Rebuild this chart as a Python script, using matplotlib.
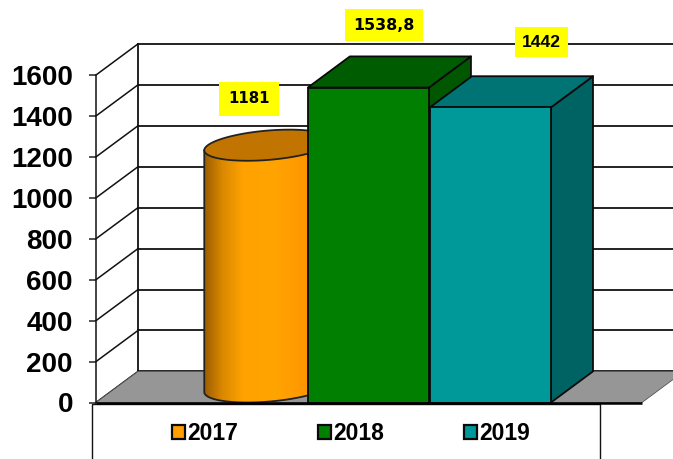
import numpy as np
import matplotlib
matplotlib.use("Agg")
import matplotlib.pyplot as plt
from matplotlib.patches import Polygon, Rectangle, Patch
from matplotlib.colors import LinearSegmentedColormap

years = ["2017", "2018", "2019"]
values = [1181, 1538.8, 1442]
value_labels = ["1181", "1538,8", "1442"]
yticks = [0, 200, 400, 600, 800, 1000, 1200, 1400, 1600]

front_colors = ["#FF9F00", "#007F00", "#009999"]
top_colors = ["#C27400", "#005C00", "#007474"]
side_colors = [None, "#005700", "#006363"]
grad_colors = [(0, "#9C5C00"), (0.14, "#D98800"), (0.3, "#FFA200"), (0.55, "#FFA400"), (0.8, "#FF9600"), (1, "#E08000")]

W, H = 673, 459
DX, DY = 42 / 121, 152.0  # oblique depth offset in data units
XMIN, XMAX, FLOOR_R = -1.25, 3.26, 3.26
EW = 1.3

fig = plt.figure(figsize=(W / 100, H / 100), dpi=100, facecolor="white")
ax = fig.add_axes([96 / W, (H - 402.5) / H, 546 / W, 327.5 / H])
ax.set_xlim(XMIN, XMAX)
ax.set_ylim(0, 1600)
ax.patch.set_alpha(0)
for s in ["top", "right", "bottom"]:
    ax.spines[s].set_visible(False)
ax.spines["left"].set_linewidth(1.1)
ax.spines["left"].set_color("#111111")
ax.set_xticks([])
ax.set_yticks(yticks)
ax.set_yticklabels([str(t) for t in yticks], fontfamily="Liberation Sans",
                   fontweight="bold", fontsize=20)
ax.tick_params(axis="y", length=5, width=1.1, pad=11.6, color="#222222")


def poly(pts, fc, ec="#0a0a0a", lw=EW, z=3):
    ax.add_patch(Polygon(pts, closed=True, facecolor=fc, edgecolor=ec,
                         linewidth=lw, zorder=z, clip_on=False, joinstyle="round"))


# floor
poly([(XMIN, 0), (FLOOR_R, 0), (FLOOR_R + DX, DY), (XMIN + DX, DY)], "#969696", ec="#555555", lw=0.6, z=1)

# gridlines on back and left walls
for t in yticks:
    col = "#111111"
    ax.plot([XMIN + DX, FLOOR_R + DX], [t + DY, t + DY], color=col, lw=1.3, zorder=0.5, clip_on=False)
    ax.plot([XMIN, XMIN + DX], [t, t + DY], color=col, lw=1.1, zorder=0.6, clip_on=False)
ax.plot([XMIN + DX, XMIN + DX], [DY, 1600 + DY], color="#111111", lw=1.3, zorder=0.6, clip_on=False)
ax.plot([XMIN, FLOOR_R], [0, 0], color="#000000", lw=1.8, zorder=8, clip_on=False, solid_capstyle="butt")

# 2017 cylinder (circle in oblique projection)
cx, hw = 0.0, 0.5
t = np.linspace(0, 2 * np.pi, 361)


def ring(base):
    return (cx + DX / 2 + hw * np.cos(t) + DX / 2 * np.sin(t),
            base + DY / 2 + DY / 2 * np.sin(t))


rx, ry = ring(values[0])
bx, by = ring(0)
il, ir = np.argmin(rx), np.argmax(rx)
i_seq = np.r_[il:361, 0:ir + 1]
body = np.r_[[[rx[il], ry[il]]], np.c_[bx[i_seq], by[i_seq]], [[rx[ir], ry[ir]]]]
body_patch = Polygon(body, closed=True, facecolor="none", edgecolor="#222222", linewidth=EW, zorder=3.1, clip_on=False)
ax.add_patch(body_patch)
cmap = LinearSegmentedColormap.from_list("cyl", grad_colors)
im = ax.imshow(np.linspace(0, 1, 256).reshape(1, -1), cmap=cmap, aspect="auto", zorder=3,
               extent=[rx.min(), rx.max(), 0, values[0] + DY], clip_on=True)
clip_fill = Polygon(body, closed=True, transform=ax.transData)
im.set_clip_path(clip_fill)
ax.set_xlim(XMIN, XMAX)
ax.set_ylim(0, 1600)
ax.add_patch(Polygon(np.c_[rx, ry], closed=True, facecolor=top_colors[0], edgecolor="#222222",
                     linewidth=EW, zorder=3.2, clip_on=False))

# 2018 and 2019 boxes
for i in [1, 2]:
    x0, x1, v = i - 0.5 + (i - 1) * 0.008, i + 0.5 + (i - 1) * 0.008, values[i]
    z = 4 + i
    poly([(x1, 0), (x1 + DX, DY), (x1 + DX, v + DY), (x1, v)], side_colors[i], z=z)
    poly([(x0, v), (x1, v), (x1 + DX, v + DY), (x0 + DX, v + DY)], top_colors[i], z=z)
    poly([(x0, 0), (x1, 0), (x1, v), (x0, v)], front_colors[i], z=z + 0.1)

# value labels
label_pos = [(0.012, 1483, "DejaVu Sans", 10.8, 0.62),
             (1.13, 1843, "DejaVu Sans", 11.4, 0.53),
             (2.43, 1761, "Liberation Sans", 12.6, 0.42)]
for lab, (lx, ly, fam, fs, pad) in zip(value_labels, label_pos):
    ax.text(lx, ly, lab, ha="center", va="center", fontfamily=fam, fontweight="bold",
            fontsize=fs, zorder=12, clip_on=False, color="black",
            bbox=dict(boxstyle=f"square,pad={pad}", facecolor="#FFFF00", edgecolor="none"))

# legend frame and legend
fig.add_artist(Rectangle((92 / W, -0.05), 508 / W, (H - 403.5) / H + 0.05, transform=fig.transFigure,
                         facecolor="white", edgecolor="#111111", linewidth=1.0, zorder=-1))
handles = [Patch(facecolor=c, edgecolor="#0a0a0a", linewidth=1.6) for c in front_colors]
leg = fig.legend(handles, years, loc="center left", bbox_to_anchor=(172 / W, (H - 433.5) / H), ncol=3, frameon=False,
                 prop=dict(family="Liberation Sans", weight="bold", size=16.5),
                 handlelength=0.56, handleheight=0.56, handletextpad=0.09, columnspacing=3.5, borderpad=0, borderaxespad=0)

fig.savefig("out.png", dpi=100)
